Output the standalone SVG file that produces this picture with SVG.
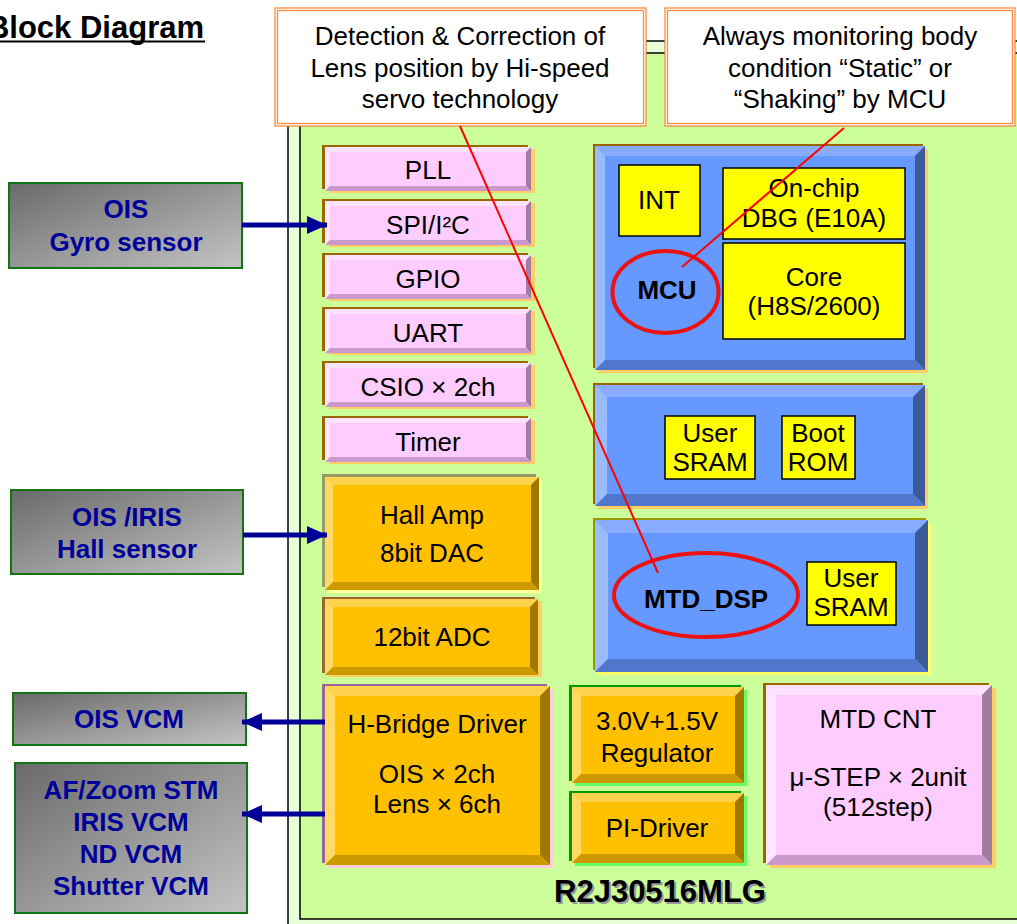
<svg xmlns="http://www.w3.org/2000/svg" xmlns:xlink="http://www.w3.org/1999/xlink" width="1017" height="924" viewBox="0 0 1017 924">
<style>
.t{font-family:"Liberation Sans",Arial,sans-serif;font-size:26px;fill:#000;text-anchor:middle}
.b{font-weight:bold}
.g{font-family:"Liberation Sans",Arial,sans-serif;font-size:26px;font-weight:bold;fill:#000099;text-anchor:middle}
.gray{fill:url(#gg);stroke:#127512;stroke-width:2}
.y{fill:#ffff00;stroke:#000;stroke-width:1.5}
.call{fill:#fff;stroke:#ff8a3d;stroke-width:1.3}
.callin{fill:none;stroke:#ff8a3d;stroke-width:1.3}
.pf{fill:#ffccff}.pt{fill:#ffe2ff}.pl{fill:#ffe8ff}.pr{fill:#a07ca0}.pb{fill:#cc99cc}
.of{fill:#ffc000}.ot{fill:#ffd24d}.ol{fill:#ffd966}.or{fill:#a07800}.ob{fill:#cc9900}
.bf{fill:#6699ff}.bt{fill:#88aaff}.bl{fill:#99bbff}.br{fill:#3d5a99}.bb{fill:#5077cc}
.arr{stroke:#000099;stroke-width:5;fill:none}
.red{stroke:#ff0000;stroke-width:2;fill:none}
.ell{stroke:#ee1111;stroke-width:4;fill:none}
</style>
<defs>
<linearGradient id="gg" x1="0" y1="0" x2="1" y2="1">
<stop offset="0" stop-color="#6a6a6a"/>
<stop offset="1" stop-color="#c4c4c4"/>
</linearGradient>
<marker id="ah" markerUnits="userSpaceOnUse" markerWidth="22" markerHeight="20" refX="20" refY="9" orient="auto">
<path d="M0,0 L20,9 L0,18 z" fill="#000099"/>
</marker>
<g id="pink">
<rect x="4" y="2" width="206" height="44" fill="#ffcc66"/>
<rect x="-3" y="-2" width="206" height="44" fill="#996600"/>
<rect x="0" y="0" width="206" height="44" class="pf"/>
<polygon class="pt" points="0,0 206,0 201,5 5,5"/>
<polygon class="pl" points="0,0 5,5 5,39 0,44"/>
<polygon class="pr" points="206,0 206,44 201,39 201,5"/>
<polygon class="pb" points="0,44 206,44 201,39 5,39"/>
</g>
</defs>

<rect width="1017" height="924" fill="#fff"/>

<g id="title">
<text x="204" y="38" font-family="Liberation Sans, Arial, sans-serif" font-size="31" font-weight="bold" text-anchor="end">Block Diagram</text>
<line x1="0" y1="41.5" x2="205" y2="41.5" stroke="#000" stroke-width="2"/>
</g>

<g id="chip">
<rect x="288" y="41" width="800" height="1000" fill="#e6ffd8" stroke="#000" stroke-width="1.5"/>
<rect x="300" y="53" width="800" height="866" fill="#ccff99" stroke="#000" stroke-width="1.5"/>
<text x="662" y="904" font-family="Liberation Sans, Arial, sans-serif" font-size="31" font-weight="bold" text-anchor="middle" fill="#999">R2J30516MLG</text>
<text x="660" y="902" font-family="Liberation Sans, Arial, sans-serif" font-size="31" font-weight="bold" text-anchor="middle" fill="#000">R2J30516MLG</text>
</g>

<g id="pll"><use xlink:href="#pink" x="325" y="147"/><text class="t" x="428" y="179">PLL</text></g>
<g id="spi"><use xlink:href="#pink" x="325" y="201"/><text class="t" x="428" y="234">SPI/I²C</text></g>
<g id="gpio"><use xlink:href="#pink" x="325" y="255"/><text class="t" x="428" y="288">GPIO</text></g>
<g id="uart"><use xlink:href="#pink" x="325" y="309"/><text class="t" x="428" y="342">UART</text></g>
<g id="csio"><use xlink:href="#pink" x="325" y="363"/><text class="t" x="428" y="396">CSIO × 2ch</text></g>
<g id="timer"><use xlink:href="#pink" x="325" y="418"/><text class="t" x="428" y="451">Timer</text></g>

<g id="hallamp">
<rect x="328" y="480" width="214" height="113" fill="#ffff99"/>
<rect x="322" y="474" width="214" height="113" fill="#999966"/>
<rect x="325" y="477" width="214" height="113" class="of"/>
<polygon class="ot" points="325,477 539,477 531,485 333,485"/>
<polygon class="ol" points="325,477 333,485 333,582 325,590"/>
<polygon class="or" points="539,477 539,590 531,582 531,485"/>
<polygon class="ob" points="325,590 539,590 531,582 333,582"/>
<text class="t" x="432" y="524">Hall Amp</text>
<text class="t" x="432" y="562">8bit DAC</text>
</g>

<g id="adc">
<rect x="329" y="601" width="213" height="76" fill="#ffcc66"/>
<rect x="322" y="597" width="213" height="76" fill="#996633"/>
<rect x="325" y="599" width="213" height="76" class="of"/>
<polygon class="ot" points="325,599 538,599 530,607 333,607"/>
<polygon class="ol" points="325,599 333,607 333,667 325,675"/>
<polygon class="or" points="538,599 538,675 530,667 530,607"/>
<polygon class="ob" points="325,675 538,675 530,667 333,667"/>
<text class="t" x="432" y="646">12bit ADC</text>
</g>

<g id="hbridge">
<rect x="328" y="689" width="225" height="179" fill="#ffccdd"/>
<rect x="322" y="684" width="225" height="179" fill="#996699"/>
<rect x="325" y="686" width="225" height="179" class="of"/>
<polygon class="ot" points="325,686 550,686 540,696 335,696"/>
<polygon class="ol" points="325,686 335,696 335,855 325,865"/>
<polygon class="or" points="550,686 550,865 540,855 540,696"/>
<polygon class="ob" points="325,865 550,865 540,855 335,855"/>
<text class="t" x="437" y="733">H-Bridge Driver</text>
<text class="t" x="437" y="783">OIS × 2ch</text>
<text class="t" x="437" y="813">Lens × 6ch</text>
</g>

<g id="regulator">
<rect x="575" y="690" width="172" height="96" fill="#66ff66"/>
<rect x="569" y="685" width="172" height="96" fill="#009900"/>
<rect x="572" y="687" width="172" height="96" class="of"/>
<polygon class="ot" points="572,687 744,687 735,696 581,696"/>
<polygon class="ol" points="572,687 581,696 581,774 572,783"/>
<polygon class="or" points="744,687 744,783 735,774 735,696"/>
<polygon class="ob" points="572,783 744,783 735,774 581,774"/>
<text class="t" x="657" y="730">3.0V+1.5V</text>
<text class="t" x="657" y="762">Regulator</text>
</g>

<g id="pidriver">
<rect x="575" y="796" width="172" height="70" fill="#66ff66"/>
<rect x="569" y="791" width="172" height="70" fill="#009900"/>
<rect x="572" y="793" width="172" height="70" class="of"/>
<polygon class="ot" points="572,793 744,793 735,802 581,802"/>
<polygon class="ol" points="572,793 581,802 581,854 572,863"/>
<polygon class="or" points="744,793 744,863 735,854 735,802"/>
<polygon class="ob" points="572,863 744,863 735,854 581,854"/>
<text class="t" x="657" y="837">PI-Driver</text>
</g>

<g id="mtdcnt">
<rect x="770" y="688" width="226" height="180" fill="#ffcc66"/>
<rect x="763" y="683" width="226" height="180" fill="#996600"/>
<rect x="766" y="685" width="226" height="180" class="pf"/>
<polygon class="pt" points="766,685 992,685 982,695 776,695"/>
<polygon class="pl" points="766,685 776,695 776,855 766,865"/>
<polygon class="pr" points="992,685 992,865 982,855 982,695"/>
<polygon class="pb" points="766,865 992,865 982,855 776,855"/>
<text class="t" x="878" y="728">MTD CNT</text>
<text class="t" x="878" y="786">μ-STEP × 2unit</text>
<text class="t" x="878" y="816">(512step)</text>
</g>

<g id="mcu">
<rect x="598" y="149" width="330" height="224" fill="#ffcc66"/>
<rect x="593" y="144" width="330" height="224" fill="#996600"/>
<rect x="595" y="146" width="330" height="224" class="bf"/>
<polygon class="bt" points="595,146 925,146 915,156 605,156"/>
<polygon class="bl" points="595,146 605,156 605,360 595,370"/>
<polygon class="br" points="925,146 925,370 915,360 915,156"/>
<polygon class="bb" points="595,370 925,370 915,360 605,360"/>
<rect class="y" x="619" y="165" width="81" height="71"/>
<text class="t" x="659" y="209">INT</text>
<rect class="y" x="723" y="168" width="182" height="71"/>
<text class="t" x="814" y="197">On-chip</text>
<text class="t" x="814" y="227">DBG (E10A)</text>
<rect class="y" x="723" y="243" width="182" height="96"/>
<text class="t" x="814" y="286">Core</text>
<text class="t" x="814" y="315">(H8S/2600)</text>
<text class="t b" x="667" y="299">MCU</text>
<ellipse class="ell" cx="665.5" cy="292" rx="53" ry="41"/>
</g>

<g id="memory">
<rect x="598" y="388" width="330" height="121" fill="#ffcc66"/>
<rect x="593" y="383" width="330" height="121" fill="#996600"/>
<rect x="595" y="385" width="330" height="121" class="bf"/>
<polygon class="bt" points="595,385 925,385 913,397 607,397"/>
<polygon class="bl" points="595,385 607,397 607,494 595,506"/>
<polygon class="br" points="925,385 925,506 913,494 913,397"/>
<polygon class="bb" points="595,506 925,506 913,494 607,494"/>
<rect class="y" x="665" y="416" width="90" height="63"/>
<text class="t" x="710" y="442">User</text>
<text class="t" x="710" y="471">SRAM</text>
<rect class="y" x="782" y="416" width="73" height="63"/>
<text class="t" x="818" y="442">Boot</text>
<text class="t" x="818" y="471">ROM</text>
</g>

<g id="mtddsp">
<rect x="598" y="523" width="333" height="152" fill="#ffff66"/>
<rect x="593" y="518" width="333" height="152" fill="#999900"/>
<rect x="595" y="520" width="333" height="152" class="bf"/>
<polygon class="bt" points="595,520 928,520 915,533 608,533"/>
<polygon class="bl" points="595,520 608,533 608,659 595,672"/>
<polygon class="br" points="928,520 928,672 915,659 915,533"/>
<polygon class="bb" points="595,672 928,672 915,659 608,659"/>
<rect class="y" x="807" y="562" width="89" height="63"/>
<text class="t" x="851" y="587">User</text>
<text class="t" x="851" y="616">SRAM</text>
<text class="t b" x="706" y="608">MTD_DSP</text>
<ellipse class="ell" cx="706" cy="595" rx="92" ry="42"/>
</g>

<g id="gyro">
<rect class="gray" x="9" y="183" width="233" height="85"/>
<text class="g" x="126" y="218">OIS</text>
<text class="g" x="126" y="251">Gyro sensor</text>
</g>
<g id="hall">
<rect class="gray" x="11" y="490" width="232" height="84"/>
<text class="g" x="127" y="526">OIS /IRIS</text>
<text class="g" x="127" y="558">Hall sensor</text>
</g>
<g id="oisvcm">
<rect class="gray" x="13" y="693" width="233" height="52"/>
<text class="g" x="129" y="728">OIS VCM</text>
</g>
<g id="afzoom">
<rect class="gray" x="15" y="763" width="232" height="150"/>
<text class="g" x="131" y="799">AF/Zoom STM</text>
<text class="g" x="131" y="831">IRIS VCM</text>
<text class="g" x="131" y="863">ND VCM</text>
<text class="g" x="131" y="895">Shutter VCM</text>
</g>

<g id="callout1">
<rect class="call" x="275" y="8" width="371" height="118"/>
<rect class="callin" x="277.5" y="10.5" width="366" height="113"/>
<text class="t" x="460" y="45">Detection &amp; Correction of</text>
<text class="t" x="460" y="77">Lens position by Hi-speed</text>
<text class="t" x="460" y="108">servo technology</text>
</g>
<g id="callout2">
<rect class="call" x="665" y="8" width="350" height="118"/>
<rect class="callin" x="667.5" y="10.5" width="345" height="113"/>
<text class="t" x="840" y="45">Always monitoring body</text>
<text class="t" x="840" y="77">condition “Static” or</text>
<text class="t" x="840" y="108">“Shaking” by MCU</text>
</g>

<g id="connectors">
<line class="arr" x1="242" y1="225" x2="327" y2="225" marker-end="url(#ah)"/>
<line class="arr" x1="243" y1="535" x2="327" y2="535" marker-end="url(#ah)"/>
<line class="arr" x1="325" y1="722" x2="242" y2="722" marker-end="url(#ah)"/>
<line class="arr" x1="325" y1="814" x2="242" y2="814" marker-end="url(#ah)"/>
<line class="red" x1="460" y1="126" x2="658" y2="573"/>
<line class="red" x1="844" y1="128" x2="682" y2="267"/>
</g>
</svg>
